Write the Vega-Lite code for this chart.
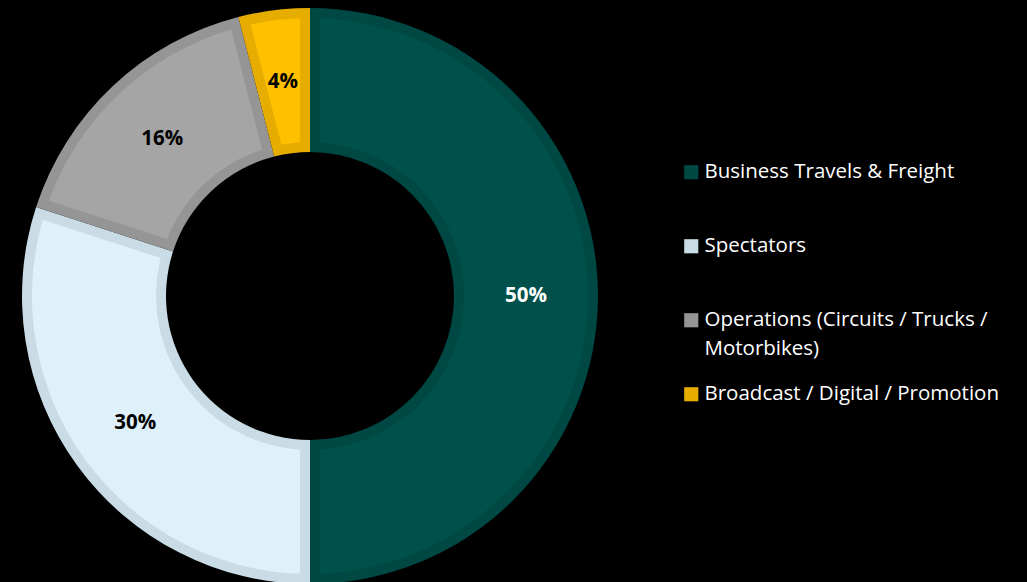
{
  "$schema": "https://vega.github.io/schema/vega-lite/v6.json",
  "width": 620,
  "height": 592,
  "padding": {"left": 0, "top": 0, "right": 407, "bottom": 0},
  "autosize": "none",
  "background": "#000000",
  "config": {"view": {"stroke": null}, "font": "Open Sans"},
  "data": {
    "values": [
      {"category": "Business Travels & Freight", "share": 50, "label": "50%", "order": 1},
      {"category": "Spectators", "share": 30, "label": "30%", "order": 2},
      {"category": "Operations (Circuits / Trucks / Motorbikes)", "share": 16, "label": "16%", "order": 3},
      {"category": "Broadcast / Digital / Promotion", "share": 4, "label": "4%", "order": 4}
    ]
  },
  "encoding": {
    "theta": {"field": "share", "type": "quantitative", "stack": true},
    "order": {"field": "order", "type": "quantitative"}
  },
  "layer": [
    {
      "mark": {"type": "arc", "outerRadius": 288, "innerRadius": 144},
      "encoding": {
        "color": {
          "field": "category",
          "type": "nominal",
          "sort": null,
          "scale": {
            "domain": ["Business Travels & Freight", "Spectators", "Operations (Circuits / Trucks / Motorbikes)", "Broadcast / Digital / Promotion"],
            "range": ["#004843", "#C9DCE5", "#959595", "#E6AD00"]
          },
          "legend": {
            "orient": "none",
            "legendX": 681,
            "legendY": 162,
            "title": null,
            "symbolType": "square",
            "symbolSize": 200,
            "symbolStrokeWidth": 0,
            "labelColor": "#FFFFFF",
            "labelFont": "Open Sans",
            "labelFontSize": 20.5,
            "labelLimit": 400,
            "labelOffset": 3,
            "gridAlign": "all",
            "rowPadding": 24,
            "labelExpr": "datum.label == 'Operations (Circuits / Trucks / Motorbikes)' ? ['Operations (Circuits / Trucks /', 'Motorbikes)'] : datum.label",
            "encode": {"labels": {"update": {"lineHeight": {"value": 29}}}}
          }
        }
      }
    },
    {
      "mark": {"type": "arc", "outerRadius": 278, "innerRadius": 154, "padAngle": 0.063},
      "encoding": {
        "color": {
          "field": "category",
          "type": "nominal",
          "sort": null,
          "scale": {
            "domain": ["Business Travels & Freight", "Spectators", "Operations (Circuits / Trucks / Motorbikes)", "Broadcast / Digital / Promotion"],
            "range": ["#00514B", "#DEF0F9", "#A5A5A5", "#FFC000"]
          },
          "legend": null
        }
      }
    },
    {
      "mark": {"type": "text", "radius": 216, "fontSize": 20.5, "fontWeight": "bold", "font": "Open Sans"},
      "encoding": {
        "text": {"field": "label", "type": "nominal"},
        "color": {
          "condition": {"test": "datum.order == 1", "value": "#FFFFFF"},
          "value": "#000000"
        }
      }
    }
  ],
  "resolve": {"scale": {"color": "independent"}}
}
